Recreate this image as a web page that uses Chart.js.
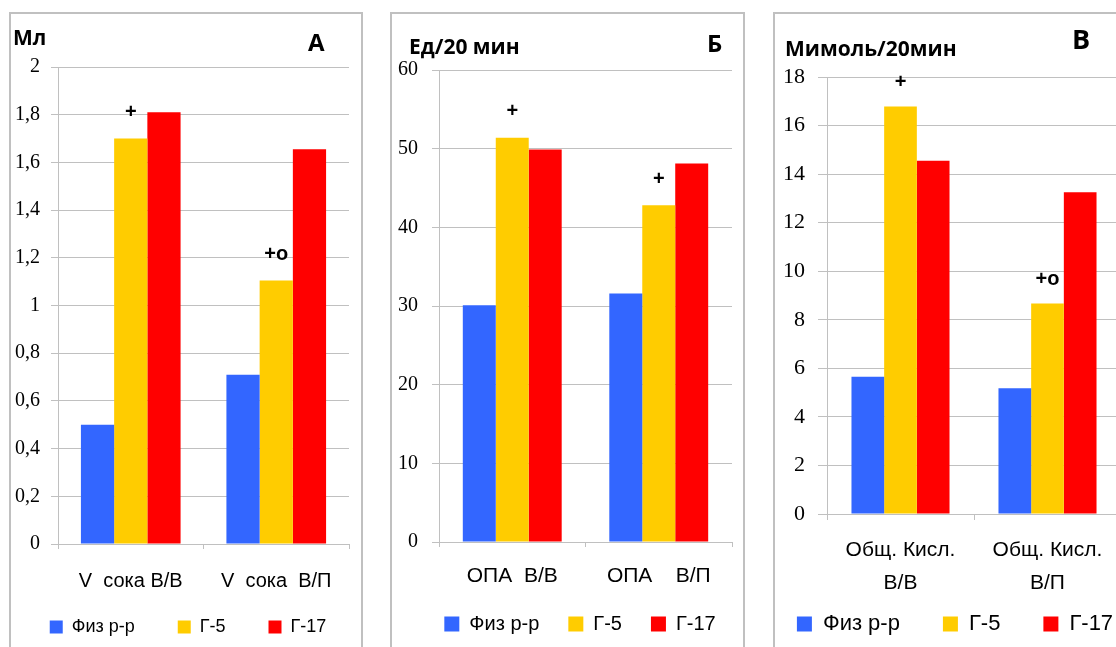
<!DOCTYPE html>
<html>
<head>
<meta charset="utf-8">
<script src="https://cdn.jsdelivr.net/npm/chart.js@4/dist/chart.umd.min.js"></script>
<style>
  body { margin: 0; width: 1116px; height: 647px; overflow: hidden; background: #fff; position: relative; }
  .panel { position: absolute; top: 12px; height: 700px; border: 2px solid #c0c0c0; box-sizing: border-box; }
  canvas { position: absolute; top: 14px; }
  .lbl { position: absolute; font-family: "Open Sans", sans-serif; font-weight: bold; line-height: 1; white-space: nowrap; color: #000; }
</style>
</head>
<body>
<div class="panel" style="left:9px; width:354px"></div>
<div class="panel" style="left:390px; width:355px"></div>
<div class="panel" style="left:773px; width:400px"></div>

<canvas id="chartA" width="400" height="660" style="left:-12px"></canvas>
<canvas id="chartB" width="380" height="660" style="left:390px"></canvas>
<canvas id="chartC" width="440" height="660" style="left:735px"></canvas>

<div class="lbl" style="left:13px; top:27px; font-size:21px">Мл</div>
<div class="lbl" style="left:308px; top:30px; font-size:24px">А</div>
<div class="lbl" style="left:409px; top:36px; font-size:21px">Ед/20 мин</div>
<div class="lbl" style="left:707px; top:31px; font-size:24px">Б</div>
<div class="lbl" style="left:785px; top:38px; font-size:21px">Мимоль/20мин</div>
<div class="lbl" style="left:1072px; top:25px; font-size:27px">В</div>

<script>
const seriesNames = ["Физ р-р", "Г-5", "Г-17"];
const seriesColors = ["#3366ff", "#ffcc00", "#ff0000"];

// panel А
const labelsA = ["V  сока В/В", "V  сока  В/П"];
const fizA = [0.5, 0.71];
const g5A = [1.70, 1.105];
const g17A = [1.81, 1.655];
const marksA = ["+", "+o"];

// panel Б
const labelsB = ["ОПА  В/В", "ОПА    В/П"];
const fizB = [30.1, 31.6];
const g5B = [51.4, 42.8];
const g17B = [49.9, 48.1];
const marksB = ["+", "+"];

// panel В
const labelsC = [["Общ. Кисл.", "В/В"], ["Общ. Кисл.", "В/П"]];
const fizC = [5.65, 5.18];
const g5C = [16.78, 8.67];
const g17C = [14.55, 13.25];
const marksC = ["+", "+o"];

const gridColor = "#c0c0c0";
const serif = "'Liberation Serif', Tinos, 'Times New Roman', 'Noto Serif', 'DejaVu Serif', serif";

Chart.defaults.color = "#000";
Chart.defaults.font.family = "'Liberation Sans', Arimo, Arial, sans-serif";

// significance marks above the Г-5 bars
const marksPlugin = {
  id: "marks",
  afterDatasetsDraw(chart, args, opts) {
    const ctx = chart.ctx;
    const meta = chart.getDatasetMeta(1);
    ctx.save();
    ctx.font = "bold 20px 'Liberation Sans', Arial, sans-serif";
    ctx.fillStyle = "#000";
    ctx.textAlign = "center";
    ctx.textBaseline = "middle";
    opts.marks.forEach((m, i) => {
      const bar = meta.data[i];
      ctx.fillText(m, bar.x, bar.y - opts.offset);
    });
    ctx.restore();
  }
};

// x labels sit lower than the x scale box, let them draw down to the legend
const labelRoomPlugin = {
  id: "labelRoom",
  afterLayout(chart) {
    chart.scales.x.bottom = chart.height;
  }
};

function formatTick(value, comma) {
  const v = Math.round(value * 10) / 10;
  if (Number.isInteger(v)) return String(v);
  return comma ? v.toFixed(1).replace(".", ",") : String(v);
}

function makeChart(id, labels, fiz, g5, g17, marks, o) {
  const values = [fiz, g5, g17];
  const datasets = seriesNames.map((name, i) => ({
    label: name,
    data: values[i],
    backgroundColor: seriesColors[i],
    borderWidth: 0,
    barPercentage: 1,
    categoryPercentage: o.catPct
  }));
  return new Chart(document.getElementById(id), {
    type: "bar",
    data: { labels: labels, datasets: datasets },
    plugins: [marksPlugin, labelRoomPlugin],
    options: {
      responsive: false,
      animation: false,
      devicePixelRatio: 1,
      layout: { padding: { top: o.padTop, bottom: o.padBottom, left: 0, right: 0 } },
      plugins: {
        tooltip: { enabled: false },
        marks: { marks: marks, offset: o.markOffset },
        legend: {
          position: "bottom",
          labels: {
            font: { size: o.legendFont },
            boxWidth: o.box,
            boxHeight: o.box,
            padding: o.legendPad,
            color: "#000"
          }
        }
      },
      scales: {
        x: {
          grid: { display: true, drawOnChartArea: false, color: gridColor, tickLength: o.xTick, offset: true },
          border: { display: true, color: gridColor },
          ticks: {
            font: { size: o.xFont, lineHeight: o.xLine },
            color: "#000",
            padding: o.xPad,
            maxRotation: 0,
            autoSkip: false
          },
          afterFit: s => { s.height = o.xHeight; }
        },
        y: {
          min: 0,
          max: o.yMax,
          ticks: {
            stepSize: o.yStep,
            font: { family: serif, size: o.yFont },
            color: "#000",
            padding: o.yPad,
            callback: v => formatTick(v, o.comma)
          },
          grid: { color: gridColor, tickLength: o.yTick },
          border: { display: true, color: gridColor },
          afterFit: s => { s.width = o.yWidth; }
        },
        // empty axis on the right, only to keep the legend wide
        y2: {
          position: "right",
          display: true,
          grid: { display: false },
          ticks: { display: false },
          border: { display: false },
          afterFit: s => { s.width = o.rightWidth; }
        }
      }
    }
  });
}

function drawAll() {
  makeChart("chartA", labelsA, fizA, g5A, g17A, marksA, {
    catPct: 0.685, padTop: 53, padBottom: 28, legendFont: 18, box: 13, legendPad: 43,
    xTick: 5, xFont: 20, xLine: 1.2, xPad: 20, xHeight: 31,
    yMax: 2, yStep: 0.2, yFont: 20, yPad: 11, yTick: 7, yWidth: 70, rightWidth: 39, comma: true,
    markOffset: 26
  });

  makeChart("chartB", labelsB, fizB, g5B, g17B, marksB, {
    catPct: 0.675, padTop: 56, padBottom: 30, legendFont: 20, box: 15, legendPad: 29,
    xTick: 5, xFont: 21, xLine: 1.2, xPad: 17, xHeight: 43,
    yMax: 60, yStep: 10, yFont: 20, yPad: 14, yTick: 7, yWidth: 49, rightWidth: 38, comma: false,
    markOffset: 26
  });

  makeChart("chartC", labelsC, fizC, g5C, g17C, marksC, {
    catPct: 0.667, padTop: 63, padBottom: 29, legendFont: 22, box: 15, legendPad: 43,
    xTick: 6, xFont: 21, xLine: 1.571, xPad: 14, xHeight: 56,
    yMax: 18, yStep: 2, yFont: 22, yPad: 13, yTick: 9, yWidth: 92, rightWidth: 54, comma: false,
    markOffset: 24
  });
}

// make sure the canvas fonts are ready before drawing
Promise.all([
  document.fonts.load("20px 'Liberation Serif'"),
  document.fonts.load("20px 'Liberation Sans'"),
  document.fonts.load("bold 20px 'Liberation Sans'")
]).catch(() => {}).then(drawAll);
</script>
</body>
</html>
